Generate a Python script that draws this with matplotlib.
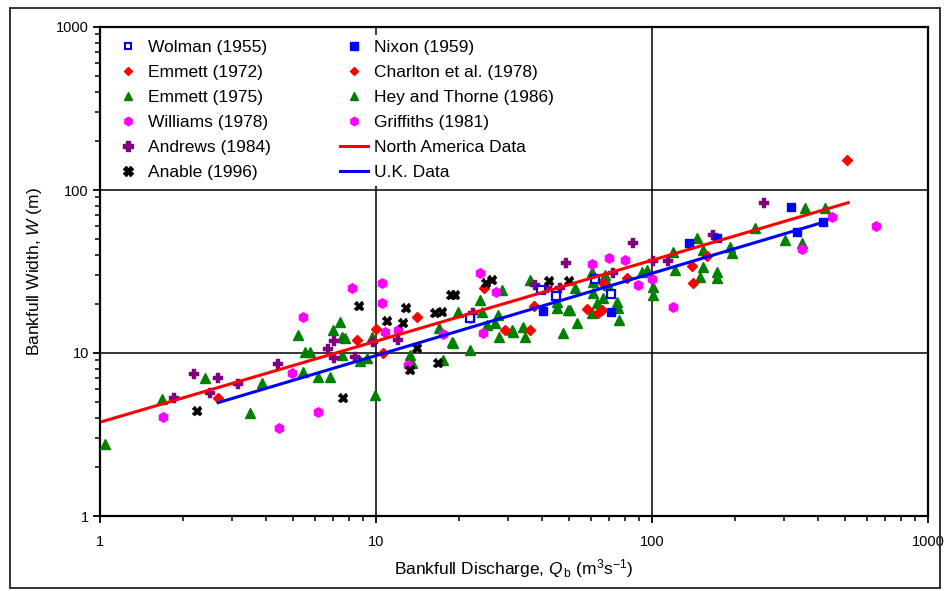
import matplotlib
matplotlib.use("Agg")
import matplotlib.pyplot as plt
from matplotlib.ticker import LogLocator, NullFormatter, FixedLocator, FixedFormatter
from matplotlib.patches import Rectangle
from matplotlib.lines import Line2D

plt.rcParams['font.family'] = ['Liberation Sans', 'DejaVu Sans']
plt.rcParams['mathtext.fontset'] = 'custom'
plt.rcParams['mathtext.rm'] = 'Liberation Sans'
plt.rcParams['mathtext.it'] = 'Liberation Sans:italic'

# ---------------- data ----------------
wolman_q = [21.9, 39.6, 44.9, 62.1, 71.0]
wolman_w = [16.4, 24.4, 22.4, 28.4, 23.0]

nixon_q = [40.3, 71.0, 136, 172, 319, 335, 417]
nixon_w = [18.1, 17.8, 47.3, 50.8, 78.7, 55.2, 63.6]

emmett72_q = [2.68, 8.53, 10.0, 10.6, 14.1, 24.6, 29.3, 36.1, 509]
emmett72_w = [5.30, 12.0, 14.0, 10.0, 16.6, 25.0, 13.8, 13.8, 153]

charlton_q = [37.4, 58.1, 63.7, 65.9, 81.2, 66.4, 140, 141, 158]
charlton_w = [19.4, 18.6, 17.6, 18.4, 28.8, 26.9, 34.2, 26.9, 39.4]

emmett75_q = [1.04, 1.68, 2.40, 3.50, 3.86, 5.22, 5.53, 5.77, 5.44, 6.16,
              6.81, 7.41, 6.98, 7.53, 7.72, 7.53, 8.75, 9.28, 9.92, 9.67,
              13.3, 13.5, 19.0, 31.4, 49.6, 60.6]
emmett75_w = [2.77, 5.22, 7.03, 4.28, 6.55, 12.9, 10.1, 10.1, 7.65, 7.13,
              7.13, 15.5, 13.8, 12.5, 12.4, 9.72, 8.93, 9.31, 5.52, 12.5,
              9.72, 8.68, 11.5, 13.5, 18.4, 17.6]

heythorne_q = [23.8, 19.8, 24.2, 16.9, 18.8, 21.9, 17.5, 25.3, 27.7, 27.0,
               27.9, 31.1, 34.1, 34.7, 28.6, 36.1, 60.6, 61.1, 52.6, 61.1,
               67.6, 69.3, 66.4, 63.1, 74.7, 75.3, 50.5, 53.5, 45.3, 45.3,
               47.6, 75.9, 92.0, 95.9, 100.8, 100.8, 119, 121, 146, 153,
               192, 195, 236, 153, 149, 172, 172, 303, 349, 358, 424]
heythorne_w = [21.1, 17.8, 17.8, 14.2, 11.7, 10.4, 9.06, 14.9, 17.1, 15.3,
               12.5, 13.8, 14.4, 12.5, 24.4, 28.0, 31.4, 27.3, 25.0, 23.3,
               30.1, 26.2, 21.8, 20.3, 20.5, 18.9, 18.4, 15.3, 18.9, 20.5,
               13.3, 15.9, 31.4, 32.3, 25.4, 22.7, 41.7, 32.3, 50.8, 42.9,
               44.7, 41.1, 58.5, 33.7, 29.2, 31.4, 28.8, 49.3, 47.3, 77.6, 77.6]

williams_q = [1.69, 4.96, 4.45, 8.19, 5.44, 6.16, 10.5, 10.5, 10.8, 12.0, 13.1]
williams_w = [4.05, 7.54, 3.47, 25.0, 16.6, 4.35, 26.9, 20.3, 13.5, 13.8, 8.44]

griffiths_q = [23.8, 27.2, 21.9, 17.5, 24.4, 60.6, 69.9, 79.8, 89.0, 100, 119, 349, 449, 648]
griffiths_w = [31.0, 23.7, 16.4, 13.1, 13.3, 35.2, 38.3, 37.3, 26.2, 28.4, 19.2, 43.5, 68.3, 60.1]

andrews_q = [1.85, 2.19, 2.68, 2.50, 3.16, 4.42, 6.70, 7.04, 7.04, 8.39,
             9.75, 12.0, 22.5, 37.7, 48.8, 46.4, 41.7, 72.2, 85.4, 100.8,
             114, 255, 166]
andrews_w = [5.30, 7.43, 7.03, 5.67, 6.45, 8.57, 10.6, 9.31, 11.8, 9.45,
             11.7, 12.0, 17.6, 26.2, 35.7, 25.0, 25.0, 31.0, 47.3, 36.7,
             36.7, 83.2, 53.0]

anable_q = [2.25, 7.59, 8.68, 10.96, 12.8, 12.5, 13.3, 14.1, 16.8, 18.7,
            19.3, 16.4, 17.3, 25.0, 26.3, 42.4, 50.0]
anable_w = [4.41, 5.30, 19.4, 15.7, 18.9, 15.3, 7.87, 10.7, 8.68, 22.7,
            22.7, 17.6, 17.8, 26.9, 28.0, 27.7, 27.7]

na_line_q = [1.02, 514]
na_line_w = [3.80, 83.6]
uk_line_q = [2.68, 425]
uk_line_w = [4.96, 64.0]

tick_vals = [1, 10, 100, 1000]
tick_labels = ['1', '10', '100', '1000']

# ---------------- figure ----------------
fig = plt.figure(figsize=(9.45, 5.91), dpi=100)
ax = fig.add_axes([100/945, 75/591, 828/945, 489/591])
ax.set_xscale('log')
ax.set_yscale('log')
ax.set_xlim(1, 1000)
ax.set_ylim(1, 1000)

BLUE = '#0000FF'
RED = '#FF0000'
GREEN = '#008000'
MAG = '#FF00FF'
PURP = '#800080'

kw = dict(linestyle='none', zorder=3)
ax.plot(emmett75_q, emmett75_w, marker='^', ms=6.8, color=GREEN, mec=GREEN, **kw)
ax.plot(heythorne_q, heythorne_w, marker='^', ms=6.8, color=GREEN, mec=GREEN, **kw)
ax.plot(williams_q, williams_w, marker='h', ms=6.8, color=MAG, mec=MAG, **kw)
ax.plot(griffiths_q, griffiths_w, marker='h', ms=6.8, color=MAG, mec=MAG, **kw)
ax.plot(emmett72_q, emmett72_w, marker='D', ms=5.2, color=RED, mec=RED, **kw)
ax.plot(charlton_q, charlton_w, marker='D', ms=5.2, color=RED, mec=RED, **kw)
ax.plot(andrews_q, andrews_w, marker='P', ms=7.2, color=PURP, mec=PURP, mew=0.3, **kw)
ax.plot(anable_q, anable_w, marker='X', ms=7.2, color='black', mec='black', mew=0.3, **kw)
ax.plot(nixon_q, nixon_w, marker='s', ms=6.3, color=BLUE, mec=BLUE, **kw)
ax.plot(wolman_q, wolman_w, marker='s', ms=6.3, mfc='white', mec=BLUE, mew=1.6, **kw)

ax.plot(na_line_q, na_line_w, color=RED, lw=2.2, zorder=4)
ax.plot(uk_line_q, uk_line_w, color=BLUE, lw=2.2, zorder=4)

# axes styling
ax.grid(True, which='major', color='black', lw=1.1)
ax.set_axisbelow(True)
for s in ax.spines.values():
    s.set_linewidth(1.6)
    s.set_color('black')
ax.xaxis.set_major_locator(FixedLocator(tick_vals))
ax.xaxis.set_major_formatter(FixedFormatter(tick_labels))
ax.yaxis.set_major_locator(FixedLocator(tick_vals))
ax.yaxis.set_major_formatter(FixedFormatter(tick_labels))
ax.xaxis.set_minor_locator(LogLocator(base=10, subs=range(2, 10)))
ax.yaxis.set_minor_locator(LogLocator(base=10, subs=range(2, 10)))
ax.xaxis.set_minor_formatter(NullFormatter())
ax.yaxis.set_minor_formatter(NullFormatter())
ax.tick_params(which='major', direction='out', length=5, width=1.3, labelsize=10.5, colors='black')
ax.tick_params(which='minor', direction='out', length=3.5, width=1.1)
ax.tick_params(axis='x', which='major', pad=9)
ax.tick_params(axis='y', which='major', pad=3)

ax.set_xlabel(r'Bankfull Discharge, $\mathit{Q}_{\,\mathrm{b}}$ (m$^{3}$s$^{-1}$)', fontsize=12.5)
ax.set_ylabel(r'Bankfull Width, $\mathit{W}$ (m)', fontsize=12.5)
ax.xaxis.set_label_coords(0.5, -0.085)
ax.yaxis.set_label_coords(-0.068, 0.5)

# legend
def mk(marker, color, ms, **extra):
    return Line2D([], [], linestyle='none', marker=marker, color=color, mec=extra.pop('mec', color), ms=ms, **extra)

h_col1 = [
    (mk('s', BLUE, 5, mfc='white', mew=1.5), 'Wolman (1955)'),
    (mk('D', RED, 4.5), 'Emmett (1972)'),
    (mk('^', GREEN, 5.5), 'Emmett (1975)'),
    (mk('h', MAG, 6), 'Williams (1978)'),
    (mk('P', PURP, 6.5), 'Andrews (1984)'),
    (mk('X', 'black', 6.5), 'Anable (1996)'),
]
h_col2 = [
    (mk('s', BLUE, 5.5), 'Nixon (1959)'),
    (mk('D', RED, 4.5), 'Charlton et al. (1978)'),
    (mk('^', GREEN, 5.5), 'Hey and Thorne (1986)'),
    (mk('h', MAG, 6), 'Griffiths (1981)'),
    (Line2D([], [], color=RED, lw=2.2), 'North America Data'),
    (Line2D([], [], color=BLUE, lw=2.2), 'U.K. Data'),
]
handles = [h for h, _ in h_col1 + h_col2]
labels = [l for _, l in h_col1 + h_col2]
leg = ax.legend(handles, labels, ncol=2, loc='upper left', bbox_to_anchor=(0.011, 0.984),
                borderaxespad=0, fontsize=12.5, frameon=True, fancybox=False,
                facecolor='white', edgecolor='none', framealpha=1,
                handlelength=1.6, handletextpad=0.35, labelspacing=0.57,
                columnspacing=4.0, borderpad=0.3)
leg.set_zorder(5)

# outer frame of the figure
fig.add_artist(Rectangle((10/945, 3/591), 930/945, 580/591, transform=fig.transFigure,
                         fill=False, lw=1.3, edgecolor='#222222'))

fig.savefig('out.png', dpi=100)
